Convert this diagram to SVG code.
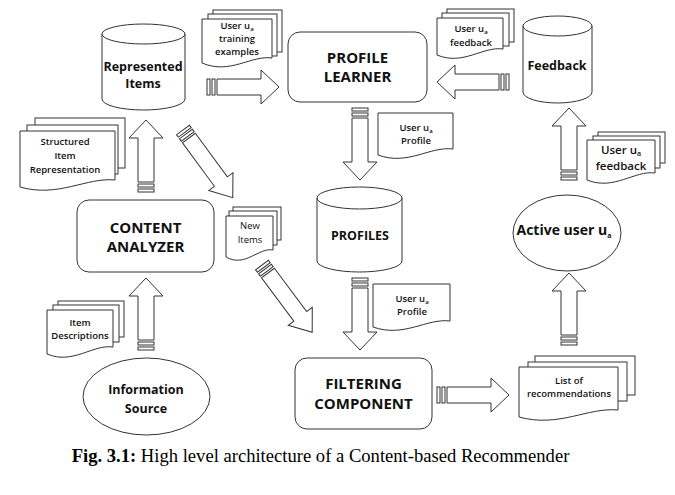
<svg xmlns="http://www.w3.org/2000/svg" xmlns:xlink="http://www.w3.org/1999/xlink" width="675" height="495" viewBox="0 0 675 495">
<style>
.s{fill:#fff;stroke:#333;stroke-width:1}
.t{font-family:"Open Sans","DejaVu Sans",sans-serif;font-weight:bold;text-anchor:middle;fill:#111}
.big{font-size:15px}
.mid{font-size:12.5px}
.sm{font-size:9.5px;font-weight:600}
.sub{font-size:6px}
.cap{font-family:"Liberation Serif","Times New Roman",serif;font-size:18.6px;fill:#000;text-anchor:middle}
</style>
<defs>
<g id="a72" class="s"><rect x="0" y="-8" width="3" height="16"/><rect x="5" y="-8" width="3" height="16"/><path d="M10,-8 H54 V-17 L72,0 L54,17 V8 H10 Z"/></g>
<g id="a84" class="s"><rect x="0" y="-8" width="3" height="16"/><rect x="5" y="-8" width="3" height="16"/><path d="M10,-8 H64 V-15 L84,0 L64,15 V8 H10 Z"/></g>
</defs>
<rect width="675" height="495" fill="#fff"/>

<g id="connectors">
<use xlink:href="#a72" transform="translate(207,87)"/>
<use xlink:href="#a72" transform="translate(509,82) rotate(180)"/>
<use xlink:href="#a72" transform="translate(360,108) rotate(90)"/>
<use xlink:href="#a72" transform="translate(360,278) rotate(90)"/>
<use xlink:href="#a72" transform="translate(437,395)"/>
<use xlink:href="#a72" transform="translate(569,345) rotate(-90)"/>
<use xlink:href="#a72" transform="translate(569,180) rotate(-90)"/>
<use xlink:href="#a72" transform="translate(146,192) rotate(-90)"/>
<use xlink:href="#a72" transform="translate(146,350) rotate(-90)"/>
<use xlink:href="#a84" transform="translate(183,130) rotate(53.7)"/>
<use xlink:href="#a84" transform="translate(262,265) rotate(53.3)"/>
</g>

<g id="represented-items">
<path class="s" d="M102,34 V99 A41.5,11 0 0 0 185,99 V34 Z"/>
<ellipse class="s" cx="143.5" cy="34" rx="41.5" ry="10"/>
<text class="t mid" x="143" y="71">Represented</text>
<text class="t mid" x="143" y="88">Items</text>
</g>

<g id="training-examples">
<rect class="s" x="213" y="10" width="69" height="42"/>
<rect class="s" x="208" y="14" width="69" height="42"/>
<path class="s" d="M202,19 H272 V58 C251,55 230,75 202,63 Z"/>
<text class="t sm" x="237" y="29">User u<tspan class="sub" dy="2">a</tspan></text>
<text class="t sm" x="237" y="42">training</text>
<text class="t sm" x="237" y="55">examples</text>
</g>

<g id="profile-learner">
<rect class="s" x="288" y="32" width="139" height="70" rx="12"/>
<text class="t big" x="357.5" y="63">PROFILE</text>
<text class="t big" x="357.5" y="82">LEARNER</text>
</g>

<g id="feedback-doc-top">
<rect class="s" x="447" y="9" width="67" height="33"/>
<rect class="s" x="442" y="13" width="67" height="33"/>
<path class="s" d="M437,18 H503 V49 C483,46 463,66 437,55 Z"/>
<text class="t sm" x="471" y="32">User u<tspan class="sub" dy="2">a</tspan></text>
<text class="t sm" x="471" y="46">feedback</text>
</g>

<g id="feedback">
<path class="s" d="M523,26 V92 A34.5,11 0 0 0 592,92 V26 Z"/>
<ellipse class="s" cx="557.5" cy="26" rx="34.5" ry="10"/>
<text class="t mid" x="557" y="70">Feedback</text>
</g>

<g id="structured-item">
<rect class="s" x="35" y="118" width="90" height="50"/>
<rect class="s" x="27" y="125" width="91" height="49"/>
<path class="s" d="M20,131 H115 V180 C87,177 58,198 20,187 Z"/>
<text class="t sm" x="65" y="145">Structured</text>
<text class="t sm" x="65" y="159">Item</text>
<text class="t sm" x="65" y="173">Representation</text>
</g>

<g id="profile-doc-1">
<path class="s" d="M378,113 H453 V149 C430,146 408,166 378,155 Z"/>
<text class="t sm" x="416" y="131">User u<tspan class="sub" dy="2">a</tspan></text>
<text class="t sm" x="416" y="144">Profile</text>
</g>

<g id="feedback-doc-right">
<rect class="s" x="598" y="132" width="67" height="31"/>
<rect class="s" x="593" y="136" width="67" height="32"/>
<path class="s" d="M587,140 H655 V173 C635,170 614,191 587,180 Z"/>
<text class="t" style="font-size:11.5px;font-weight:600" x="621" y="154">User u<tspan class="sub" style="font-size:7px" dy="2">a</tspan></text>
<text class="t" style="font-size:11.5px;font-weight:600" x="621" y="170">feedback</text>
</g>

<g id="profiles">
<path class="s" d="M317,198 V261 A42.5,11 0 0 0 402,261 V198 Z"/>
<ellipse class="s" cx="359.5" cy="198" rx="42.5" ry="11"/>
<text class="t mid" x="360" y="240">PROFILES</text>
</g>

<g id="content-analyzer">
<rect class="s" x="77" y="200" width="137" height="72" rx="12"/>
<text class="t big" x="145.5" y="233">CONTENT</text>
<text class="t big" x="145.5" y="252">ANALYZER</text>
</g>

<g id="new-items">
<rect class="s" x="233" y="207" width="48" height="33"/>
<rect class="s" x="229" y="211" width="48" height="34"/>
<path class="s" d="M226,216 H273 V250 C259,247 245,268 226,257 Z"/>
<text class="t" style="font-size:9.5px;font-weight:normal" x="250" y="229">New</text>
<text class="t" style="font-size:9.5px;font-weight:normal" x="250" y="243">Items</text>
</g>

<g id="active-user">
<ellipse class="s" cx="567" cy="233" rx="54" ry="38"/>
<text class="t" style="font-size:14px" x="564" y="235">Active user u<tspan class="sub" style="font-size:7px" dy="3">a</tspan></text>
</g>

<g id="profile-doc-2">
<path class="s" d="M373,284 H450 V321 C427,318 404,338 373,327 Z"/>
<text class="t sm" x="412" y="302">User u<tspan class="sub" dy="2">a</tspan></text>
<text class="t sm" x="412" y="315">Profile</text>
</g>

<g id="item-descriptions">
<rect class="s" x="58" y="301" width="66" height="36"/>
<rect class="s" x="53" y="305" width="66" height="37"/>
<path class="s" d="M47,310 H113 V347 C93,344 73,365 47,354 Z"/>
<text class="t sm" x="80" y="326">Item</text>
<text class="t sm" x="80" y="339">Descriptions</text>
</g>

<g id="information-source">
<ellipse class="s" cx="146.5" cy="396.5" rx="63.5" ry="38.5"/>
<text class="t mid" x="146" y="394">Information</text>
<text class="t mid" x="146" y="413">Source</text>
</g>

<g id="filtering-component">
<rect class="s" x="295" y="358" width="137" height="71" rx="12"/>
<text class="t big" x="363.5" y="389">FILTERING</text>
<text class="t big" x="363.5" y="409">COMPONENT</text>
</g>

<g id="recommendations">
<rect class="s" x="535" y="356" width="100" height="39"/>
<rect class="s" x="528" y="362" width="99" height="39"/>
<path class="s" d="M519,367 H618 V410 C588,407 559,428 519,417 Z"/>
<text class="t sm" x="569" y="384">List of</text>
<text class="t sm" x="569" y="397">recommendations</text>
</g>

<text class="cap" x="320.5" y="462"><tspan font-weight="bold">Fig. 3.1:</tspan> High level architecture of a Content-based Recommender</text>
</svg>
